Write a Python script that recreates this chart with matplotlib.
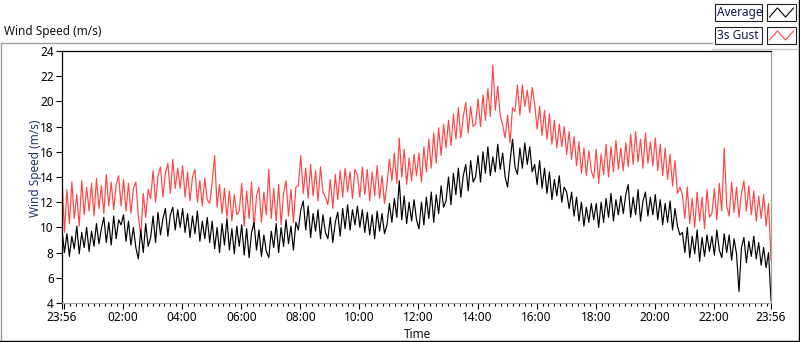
"""Wind speed over one day: 5-minute average vs 3 s gust, LabVIEW waveform-chart look."""
import matplotlib
matplotlib.use("Agg")
import matplotlib.pyplot as plt
import numpy as np
from matplotlib.lines import Line2D
from matplotlib.patches import Rectangle

# Samples every 5 minutes, starting at 23:56 (one row per hour, 12 samples each).
SAMPLE_STEP_MIN = 5

average = [
    9.8, 8.0, 9.5, 7.7, 9.3, 8.3, 10.1, 7.9, 9.6, 8.4, 10.0, 8.1,
    9.7, 8.5, 10.3, 8.7, 9.9, 10.8, 8.8, 10.4, 8.6, 10.9, 9.1, 10.6,
    10.2, 11.0, 8.9, 10.5, 8.6, 10.0, 8.4, 7.5, 9.8, 8.0, 10.3, 8.5,
    9.2, 10.9, 8.8, 11.2, 9.4, 10.7, 11.5, 9.3, 11.0, 11.6, 9.8, 11.4,
    10.0, 11.5, 9.6, 11.1, 9.2, 10.9, 9.5, 11.3, 8.9, 10.5, 9.1, 10.8,
    8.8, 10.5, 8.3, 10.0, 8.0, 10.3, 8.6, 10.7, 8.2, 9.9, 7.9, 10.1,
    8.5, 10.2, 7.8, 9.9, 7.6, 9.6, 10.4, 8.2, 9.8, 7.7, 9.4, 8.1,
    7.6, 9.7, 8.4, 10.3, 8.0, 10.0, 8.5, 10.6, 8.7, 10.1, 8.2, 10.4,
    9.8, 11.4, 12.1, 9.8, 11.7, 9.2, 11.1, 9.7, 11.4, 9.1, 11.0, 9.6,
    9.1, 10.8, 8.8, 10.4, 11.2, 9.3, 11.5, 9.9, 11.8, 9.8, 11.4, 10.2,
    11.7, 10.0, 11.4, 9.6, 11.2, 9.4, 11.0, 9.1, 11.3, 9.7, 11.1, 9.5,
    10.2, 11.9, 10.4, 12.3, 10.8, 13.7, 10.6, 12.5, 10.3, 12.0, 10.5, 12.2,
    10.6, 9.9, 12.0, 10.2, 12.4, 10.7, 12.8, 10.4, 12.6, 11.1, 13.3, 11.6,
    12.1, 14.0, 11.8, 14.3, 12.6, 14.7, 12.4, 14.1, 15.0, 12.9, 15.3, 13.6,
    14.0, 15.7, 13.6, 16.0, 14.3, 16.4, 14.1, 15.6, 14.4, 16.6, 14.6, 15.9,
    14.0, 13.2, 15.2, 17.0, 14.8, 14.2, 16.3, 14.7, 16.7, 15.0, 16.4, 14.4,
    15.0, 13.4, 15.3, 13.1, 14.7, 12.7, 14.4, 12.2, 13.8, 12.5, 14.1, 12.0,
    13.2, 12.8, 11.5, 12.8, 10.9, 12.4, 10.5, 12.0, 10.1, 11.6, 10.4, 11.9,
    10.6, 11.9, 10.0, 12.0, 10.4, 12.3, 10.8, 12.7, 10.5, 12.2, 11.0, 12.5,
    11.1, 12.6, 13.4, 10.8, 12.4, 11.0, 13.0, 10.5, 12.1, 12.8, 10.9, 12.4,
    11.0, 12.6, 10.6, 12.2, 10.2, 11.9, 10.4, 12.1, 9.8, 11.5, 10.1, 9.4,
    9.6, 8.0, 10.0, 7.6, 9.3, 7.9, 9.8, 7.3, 9.2, 7.7, 9.4, 8.1,
    9.3, 7.8, 9.8, 8.2, 7.6, 9.5, 8.0, 9.4, 7.4, 9.1, 7.9, 4.9,
    8.4, 9.2, 7.2, 8.9, 7.7, 9.3, 7.5, 8.8, 7.0, 8.4, 6.8, 8.0,
    4.2,
]

gust_3s = [
    14.0, 9.6, 13.0, 10.3, 13.6, 10.7, 12.6, 10.1, 13.7, 11.0, 13.2, 11.3,
    13.5, 10.9, 13.9, 11.5, 13.3, 11.1, 14.2, 11.7, 13.6, 11.4, 13.4, 14.1,
    11.7, 13.8, 11.3, 13.5, 11.1, 13.1, 13.6, 10.9, 9.3, 12.7, 10.8, 13.0,
    12.3, 14.5, 12.0, 14.1, 14.8, 12.4, 14.3, 15.1, 12.7, 15.4, 13.1, 14.7,
    13.1, 14.9, 12.4, 14.4, 12.1, 14.0, 14.6, 12.0, 13.7, 11.7, 13.9, 12.2,
    11.9, 13.6, 15.7, 11.6, 13.4, 11.1, 13.1, 10.8, 12.9, 10.5, 12.6, 11.0,
    11.3, 13.5, 10.1, 12.9, 10.7, 13.6, 9.9, 12.5, 13.2, 10.4, 12.8, 11.0,
    14.6, 10.7, 13.1, 10.5, 13.4, 10.2, 12.7, 13.7, 10.9, 13.0, 10.4, 13.2,
    13.3, 15.7, 12.7, 14.7, 12.3, 15.0, 12.5, 14.5, 12.1, 14.8, 12.8, 12.4,
    11.8, 13.8, 11.5, 14.2, 12.2, 14.5, 12.4, 14.7, 12.8, 14.4, 12.3, 14.6,
    14.2, 12.4, 14.8, 12.6, 14.6, 12.1, 14.4, 12.5, 14.9, 12.3, 14.1, 11.9,
    13.4, 15.4, 13.7, 15.9, 13.5, 17.1, 14.0, 16.2, 13.4, 15.5, 13.7, 15.8,
    14.1, 15.9, 13.6, 16.4, 14.4, 17.0, 14.7, 17.5, 15.1, 17.9, 15.7, 18.2,
    16.3, 18.5, 16.5, 19.0, 17.0, 19.5, 17.1, 18.8, 19.9, 17.5, 19.6, 18.0,
    18.2, 20.2, 18.0, 20.5, 18.5, 21.0, 18.8, 22.9, 19.3, 21.2, 18.9, 18.1,
    17.1, 18.9, 16.7, 19.5, 19.2, 21.3, 18.9, 21.3, 19.6, 20.9, 19.1, 21.1,
    19.8, 17.8, 19.6, 17.3, 19.3, 17.0, 19.0, 16.6, 18.5, 16.3, 18.2, 16.4,
    18.0, 15.8, 17.6, 15.4, 17.2, 14.9, 16.8, 14.3, 16.3, 14.1, 16.1, 14.5,
    13.9, 16.2, 13.5, 15.8, 14.2, 16.6, 14.0, 16.4, 14.4, 16.9, 14.6, 16.3,
    14.5, 16.7, 14.8, 17.4, 15.0, 17.6, 15.2, 17.0, 14.7, 17.5, 15.1, 16.8,
    14.9, 17.1, 14.5, 16.6, 14.1, 16.3, 13.8, 15.8, 13.3, 15.3, 12.7, 13.2,
    12.6, 10.7, 13.2, 10.3, 12.3, 10.0, 12.8, 10.5, 12.4, 9.9, 13.0, 10.8,
    11.1, 13.1, 10.6, 13.5, 11.3, 16.3, 11.7, 10.9, 13.6, 11.2, 13.2, 10.8,
    12.7, 13.7, 11.3, 13.3, 11.0, 12.9, 10.5, 12.5, 10.7, 12.6, 10.1, 11.9,
    7.4,
]

# Minutes after 23:56 for the labelled ticks.
major_tick_min = [0, 4, 124, 244, 364, 484, 604, 724, 844, 964, 1084, 1204, 1324, 1440]
major_tick_labels = ["23:56", "", "02:00", "04:00", "06:00", "08:00", "10:00", "12:00",
                     "14:00", "16:00", "18:00", "20:00", "22:00", "23:56"]
y_ticks = [4, 6, 8, 10, 12, 14, 16, 18, 20, 22, 24]

W, H = 800, 342
FONT = ["Noto Sans", "DejaVu Sans"]
plt.rcParams["font.family"] = FONT
plt.rcParams["font.size"] = 8.5


def fx(px):
    return px / W


def fy(py):
    return 1 - py / H


fig = plt.figure(figsize=(W / 100, H / 100), dpi=100)
fig.patch.set_facecolor("white")

# outer 3D-ish panel frame
fig.add_artist(Line2D([fx(0.5), fx(712)], [fy(42.5), fy(42.5)], color="#a0a0a0", lw=1.0))
fig.add_artist(Line2D([fx(0.5), fx(0.5)], [fy(42.5), fy(341)], color="#a0a0a0", lw=1.0))
fig.add_artist(Line2D([fx(0), fx(798.5)], [fy(340.5), fy(340.5)], color="black", lw=1.0))
fig.add_artist(Line2D([fx(798.5), fx(798.5)], [fy(0), fy(341)], color="black", lw=1.0))
fig.add_artist(Line2D([fx(712), fx(798)], [fy(49), fy(49)], color="#c8c8c8", lw=1.0))

fig.text(fx(4), fy(32), "Wind Speed (m/s)", ha="left", va="center", fontsize=8.5, color="#111111")

# main plot area
axis = fig.add_axes([fx(62), fy(303), fx(771 - 62), (303 - 51) / H])
minutes = np.arange(len(average)) * SAMPLE_STEP_MIN
axis.plot(minutes, gust_3s, color="#ff4545", lw=0.85)
axis.plot(minutes, average, color="black", lw=0.85)

axis.set_xlim(0, 1440)
axis.set_ylim(4, 24)
axis.set_xticks(major_tick_min)
axis.set_xticklabels(major_tick_labels)
axis.set_xticks(np.arange(16, 1440, 12), minor=True)
axis.set_yticks(y_ticks)
axis.tick_params(axis="x", which="major", direction="out", length=4, width=0.8, pad=2, labelsize=8.5)
axis.tick_params(axis="x", which="minor", direction="out", length=2, width=0.8)
axis.tick_params(axis="y", direction="out", length=4, width=0.8, pad=2, labelsize=8.5)
for side, col in (("top", "black"), ("left", "black"), ("right", "#a0a0a0"), ("bottom", "#a0a0a0")):
    axis.spines[side].set_color(col)
    axis.spines[side].set_linewidth(0.9)

fig.text(fx(35), fy(168), "Wind Speed (m/s)", rotation=90, ha="center", va="center",
         fontsize=8.5, color="#22336b")
fig.text(fx(417), fy(334), "Time", ha="center", va="center", fontsize=8.5, color="#111111")

# legend: name box + sample box per series
for row, (name, color) in enumerate((("Average", "black"), ("3s Gust", "#ff4545"))):
    top = 4 + row * 23
    fig.add_artist(Rectangle((fx(715), fy(top + 17)), fx(47), 17 / H, transform=fig.transFigure,
                             fill=False, edgecolor="#202020", lw=0.8))
    fig.text(fx(717), fy(top + 8.5), name, ha="left", va="center", fontsize=8.5, color="#101850")
    fig.add_artist(Rectangle((fx(767), fy(top + 17)), fx(29), 17 / H, transform=fig.transFigure,
                             fill=False, edgecolor="#202020", lw=0.8))
    sample = fig.add_axes([fx(769), fy(top + 14), fx(25), 11 / H])
    sample.plot([0, 1, 2, 3], [0, 1, 0, 1], color=color, lw=0.8)
    sample.set_xlim(-0.05, 3.05)
    sample.set_ylim(-0.1, 1.1)
    sample.axis("off")

fig.savefig("out.png", dpi=100)
